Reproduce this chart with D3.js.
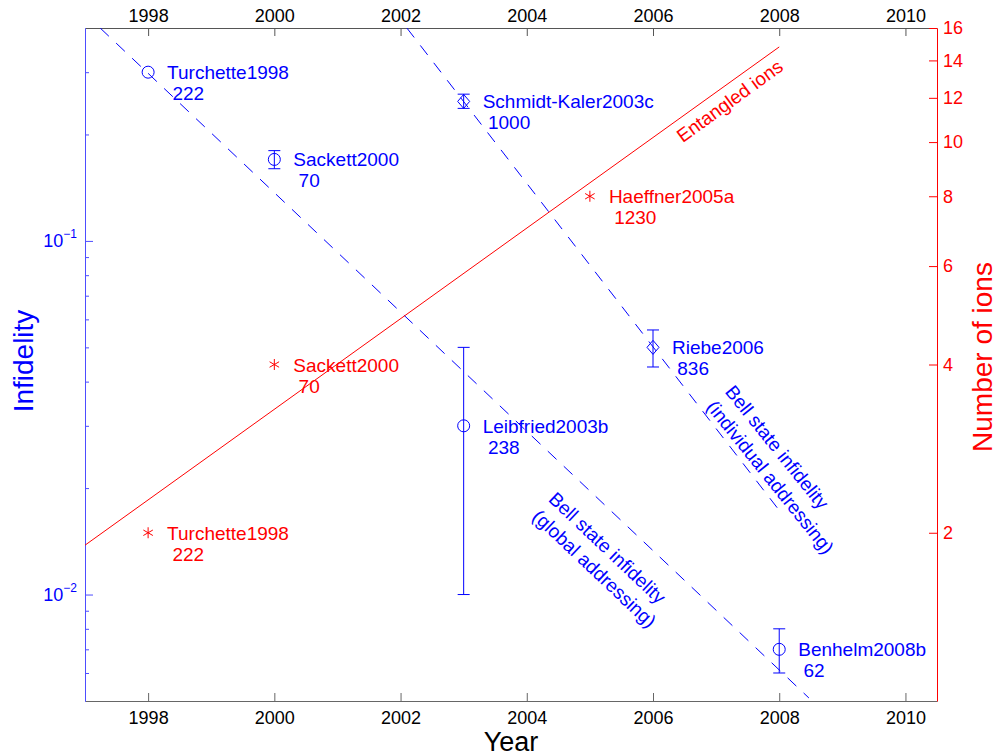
<!DOCTYPE html>
<html>
<head>
<meta charset="utf-8">
<script src="https://cdn.jsdelivr.net/npm/d3@7"></script>
<style>
  body { margin: 0; background: #fff; }
  svg text { font-family: "Liberation Sans", Arial, Helvetica, sans-serif; }
</style>
</head>
<body>
<svg id="chart" width="997" height="756"></svg>
<script>
// tick values
const yearTicks = [1998, 2000, 2002, 2004, 2006, 2008, 2010];
const infMajorTicks = [0.01, 0.1];
const infMinorTicks = [0.006, 0.007, 0.008, 0.009, 0.02, 0.03, 0.04, 0.05, 0.06, 0.07, 0.08, 0.09, 0.2, 0.3];
const ionTicks = [2, 4, 6, 8, 10, 12, 14, 16];

// Bell state infidelity measurements (blue)
const fidNames = ["Turchette1998", "Sackett2000", "Schmidt-Kaler2003c", "Leibfried2003b", "Riebe2006", "Benhelm2008b"];
const fidYears = [1998, 2000, 2003, 2003, 2006, 2008];
const fidValues = [0.30, 0.17, 0.248, 0.030, 0.050, 0.007];
const fidLow = [null, 0.16, 0.237, 0.010, 0.044, 0.006];
const fidHigh = [null, 0.18, 0.26, 0.050, 0.056, 0.008];
const fidMarkers = ["circle", "circle", "diamond", "circle", "diamond", "circle"];
const fidNotes = ["222", "70", "1000", "238", "836", "62"];

// entangled ions (red)
const ionNames = ["Turchette1998", "Sackett2000", "Haeffner2005a"];
const ionYears = [1998, 2000, 2005];
const ionCounts = [2, 4, 8];
const ionNotes = ["222", "70", "1230"];

// trend lines
const globalFitYears = [1997.24, 2008.47];
const globalFitInf = [0.40, 0.0051];
const indivFitYears = [2002.1, 2008];
const indivFitInf = [0.40, 0.0173];
const ionFitYears = [1997, 2008];
const ionFitCounts = [1.9, 14.8];

const BLUE = "#0000ff", RED = "#ff0000";
const plot = { left: 85, right: 937, top: 28, bottom: 701 };

const svg = d3.select("#chart");

const x = d3.scaleLinear().domain([1997, 2010.5]).range([plot.left, plot.right]);
const yInf = d3.scaleLog().domain([0.005, 0.4]).range([plot.bottom, plot.top]);
const yIon = d3.scaleLog().domain([1, 16]).range([plot.bottom, plot.top]);

svg.append("clipPath").attr("id", "plotClip")
  .append("rect")
  .attr("x", plot.left).attr("y", plot.top)
  .attr("width", plot.right - plot.left).attr("height", plot.bottom - plot.top);

// ---- axes ----
function styleAxis(g, lineColor, textColor) {
  g.attr("font-size", 18).attr("font-family", null);
  g.selectAll("path.domain").attr("stroke", lineColor);
  g.selectAll(".tick line").attr("stroke", lineColor);
  g.selectAll(".tick text").attr("fill", textColor);
}

// top years
svg.append("g")
  .attr("transform", `translate(0,${plot.top})`)
  .call(d3.axisTop(x).tickValues(yearTicks).tickFormat(d3.format("d"))
    .tickSizeInner(-8).tickSizeOuter(0).tickPadding(6))
  .call(g => styleAxis(g, "#555", "#000"));

// bottom years
svg.append("g")
  .attr("transform", `translate(0,${plot.bottom})`)
  .call(d3.axisBottom(x).tickValues(yearTicks).tickFormat(d3.format("d"))
    .tickSizeInner(-8).tickSizeOuter(0).tickPadding(10))
  .call(g => styleAxis(g, "#666", "#000"));

// left infidelity minor ticks
svg.append("g")
  .attr("transform", `translate(${plot.left},0)`)
  .call(d3.axisLeft(yInf).tickValues(infMinorTicks).tickFormat(() => "")
    .tickSizeInner(-4).tickSizeOuter(0))
  .call(g => styleAxis(g, "#4d4dff", BLUE));

// left infidelity major ticks with 10^n labels
svg.append("g")
  .attr("transform", `translate(${plot.left},0)`)
  .call(d3.axisLeft(yInf).tickValues(infMajorTicks).tickFormat(() => "")
    .tickSizeInner(-8).tickSizeOuter(0).tickPadding(8))
  .call(g => styleAxis(g, "#4d4dff", BLUE))
  .call(g => g.selectAll(".tick text").each(function (d) {
    const t = d3.select(this);
    t.append("tspan").text("10");
    t.append("tspan").attr("dy", -9).attr("font-size", 12)
      .text("\u2212" + Math.round(-Math.log10(d)));
  }));

// right ion count
svg.append("g")
  .attr("transform", `translate(${plot.right},0)`)
  .call(d3.axisRight(yIon).tickValues(ionTicks).tickFormat(d3.format("d"))
    .tickSizeInner(-8).tickSizeOuter(0).tickPadding(6))
  .call(g => styleAxis(g, RED, RED));

// axis titles
svg.append("text")
  .attr("x", (plot.left + plot.right) / 2).attr("y", 751)
  .attr("text-anchor", "middle").attr("font-size", 27)
  .text("Year");
svg.append("text")
  .attr("transform", "translate(33,361) rotate(-90)")
  .attr("text-anchor", "middle").attr("font-size", 28).attr("fill", BLUE)
  .text("Infidelity");
svg.append("text")
  .attr("transform", "translate(992,357) rotate(-90)")
  .attr("text-anchor", "middle").attr("font-size", 28).attr("fill", RED)
  .text("Number of ions");

// ---- trend lines ----
const lines = svg.append("g").attr("clip-path", "url(#plotClip)").attr("fill", "none");

lines.append("path")
  .datum(d3.zip(globalFitYears, globalFitInf))
  .attr("d", d3.line().x(d => x(d[0])).y(d => yInf(d[1])))
  .attr("stroke", BLUE).attr("stroke-dasharray", "12,10");

lines.append("path")
  .datum(d3.zip(indivFitYears, indivFitInf))
  .attr("d", d3.line().x(d => x(d[0])).y(d => yInf(d[1])))
  .attr("stroke", BLUE).attr("stroke-dasharray", "12,10");

lines.append("path")
  .datum(d3.zip(ionFitYears, ionFitCounts))
  .attr("d", d3.line().x(d => x(d[0])).y(d => yIon(d[1])))
  .attr("stroke", RED);

// rotated annotations, left aligned like the original
function rotatedLabel(px, py, angle, color, rows) {
  const t = svg.append("text")
    .attr("transform", `translate(${px},${py}) rotate(${angle})`)
    .attr("font-size", 19).attr("fill", color);
  rows.forEach((r, i) => t.append("tspan").attr("x", 0).attr("dy", i ? 24 : 0).text(r));
}
rotatedLabel(x(2006.47), yIon(9.95), -36, RED, ["Entangled ions"]);
rotatedLabel(x(2004.33), yInf(0.01845), 43.4, BLUE, ["Bell state infidelity", "(global addressing)"]);
rotatedLabel(x(2007.13), yInf(0.03736), 51.2, BLUE, ["Bell state infidelity", "(individual addressing)"]);

// ---- infidelity points ----
const fid = svg.append("g").attr("stroke", BLUE).attr("fill", "none");
fidNames.forEach((name, i) => {
  const cx = x(fidYears[i]), cy = yInf(fidValues[i]);
  if (fidLow[i] != null) {
    const y0 = yInf(fidLow[i]), y1 = yInf(fidHigh[i]);
    fid.append("line").attr("x1", cx).attr("x2", cx).attr("y1", y0).attr("y2", y1);
    fid.append("line").attr("x1", cx - 6).attr("x2", cx + 6).attr("y1", y0).attr("y2", y0);
    fid.append("line").attr("x1", cx - 6).attr("x2", cx + 6).attr("y1", y1).attr("y2", y1);
  }
  if (fidMarkers[i] === "circle") {
    fid.append("circle").attr("cx", cx).attr("cy", cy).attr("r", 6);
  } else {
    fid.append("path")
      .attr("d", `M${cx},${cy - 7}L${cx + 6},${cy}L${cx},${cy + 7}L${cx - 6},${cy}Z`);
  }
  svg.append("text").attr("x", cx + 19).attr("y", cy + 7)
    .attr("font-size", 19).attr("fill", BLUE).text(name);
  svg.append("text").attr("x", cx + 19).attr("y", cy + 28)
    .attr("font-size", 19).attr("fill", BLUE).text("\u00a0" + fidNotes[i]);
});

// ---- ion points ----
const ion = svg.append("g").attr("stroke", RED).attr("fill", "none");
ionNames.forEach((name, i) => {
  const cx = x(ionYears[i]), cy = yIon(ionCounts[i]);
  [90, 30, 150].forEach(a => {
    const r = 5.5, dx = r * Math.cos(a * Math.PI / 180), dy = r * Math.sin(a * Math.PI / 180);
    ion.append("line").attr("x1", cx - dx).attr("x2", cx + dx).attr("y1", cy - dy).attr("y2", cy + dy);
  });
  svg.append("text").attr("x", cx + 19).attr("y", cy + 7)
    .attr("font-size", 19).attr("fill", RED).text(name);
  svg.append("text").attr("x", cx + 19).attr("y", cy + 28)
    .attr("font-size", 19).attr("fill", RED).text("\u00a0" + ionNotes[i]);
});
</script>
</body>
</html>
